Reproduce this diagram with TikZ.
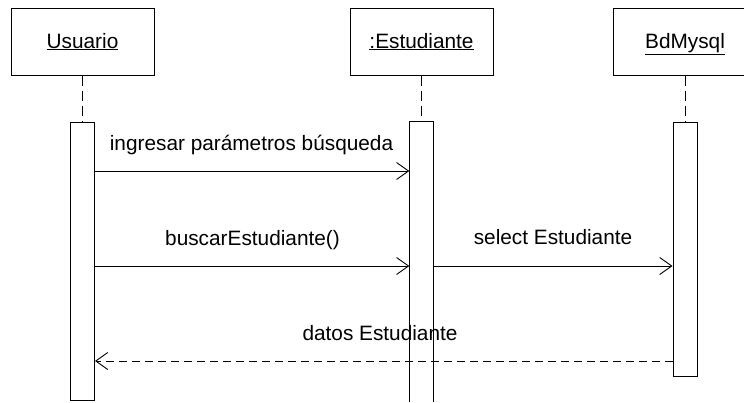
\documentclass[tikz,border=0pt]{standalone}
\usepackage{fontspec}
\setmainfont{Liberation Sans}
\usetikzlibrary{arrows.meta}
\tikzset{
  objbox/.style={draw=black, line width=1pt, fill=white, minimum width=143pt, minimum height=67pt, inner sep=0pt},
  actbar/.style={draw=black, line width=1pt, fill=white, minimum width=24pt, inner sep=0pt},
  openbar/.style={draw=none, fill=white, minimum width=24pt, inner sep=0pt},
  lifeline/.style={draw=black, line width=1pt, dash pattern=on 10pt off 5pt},
  msg/.style={draw=black, line width=0.9pt, -{Straight Barb[length=12pt,width=17pt,line width=0.9pt]}},
  retmsg/.style={msg, dash pattern=on 8pt off 5pt},
  msglabel/.style={anchor=base, inner sep=0pt},
  objlabel/.style={anchor=base, inner sep=0pt}
}
\begin{document}
\begin{tikzpicture}[x=1pt,y=-1pt, font=\fontsize{20.8}{25}\selectfont]
\useasboundingbox (0,0) rectangle (744,402);
\clip (0,0) rectangle (744,402);
% object boxes
\node[objbox] (u) at (82.5,41.5) {};
\node[objbox] (e) at (421.5,41.5) {};
\node[objbox] (b) at (685,41.5) {};
\node[objlabel] (ut) at (82.5,48) {\underline{Usuario}};
\node[objlabel] (et) at (421.5,48) {\underline{:Estudiante}};
\node[objlabel] (bt) at (685,48) {\underline{BdMysql}};
% activation bars
\node[actbar, minimum height=278pt] (ubar) at (82.5,261) {};
\node[openbar, minimum height=280pt] (ebar) at (421.5,262) {};
\draw[line width=1pt] (ebar.south west) -- (ebar.north west) -- (ebar.north east) -- (ebar.south east);
\node[actbar, minimum height=254pt] (bbar) at (685,249) {};
% lifelines
\draw[lifeline] (u.south) -- (ubar.north);
\draw[lifeline] (e.south) -- (ebar.north);
\draw[lifeline] (b.south) -- (bbar.north);
% message rows
\coordinate (r1) at (0,171);
\coordinate (r2) at (0,266);
\coordinate (r3) at (0,361);
\draw[msg] (ubar.east |- r1) -- (ebar.west |- r1);
\draw[msg] (ubar.east |- r2) -- (ebar.west |- r2);
\draw[msg] (ebar.east |- r2) -- (bbar.west |- r2);
\draw[retmsg] (bbar.west |- r3) -- (ubar.east |- r3);
% labels
\node[msglabel] (l1) at (251.5,150) {ingresar parámetros búsqueda};
\node[msglabel] (l2) at (252.5,245) {buscarEstudiante()};
\node[msglabel] (l3) at (553,244) {select Estudiante};
\node[msglabel] (l4) at (380,340) {datos Estudiante};
\end{tikzpicture}
\end{document}
